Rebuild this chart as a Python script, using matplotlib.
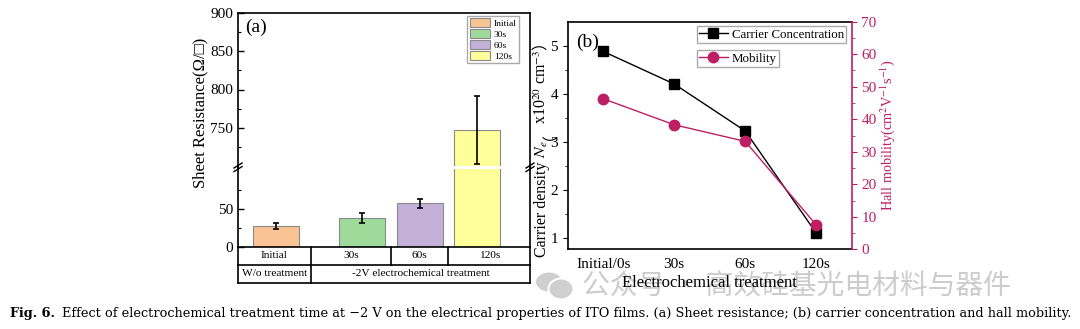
import matplotlib
matplotlib.use('Agg')
import matplotlib.pyplot as plt
import numpy as np
from matplotlib.patches import Ellipse, Patch
from matplotlib.lines import Line2D
from matplotlib.transforms import blended_transform_factory

plt.rcParams['font.family'] = ['Liberation Serif', 'Noto Sans CJK SC']
plt.rcParams['mathtext.fontset'] = 'stix'

# ---------------- data: panel (a) ----------------
sr_categories = ['Initial', '30s', '60s', '120s']
sr_values = [27, 38, 58, 747]
sr_errors = [4, 6.5, 6, 45]
sr_groups = ['W/o treatment', '-2V electrochemical treatment']
sr_colors = ['#F9C393', '#9EDB9B', '#C3B1D9', '#FFFF99']

# ---------------- data: panel (b) ----------------
b_categories = ['Initial/0s', '30s', '60s', '120s']
carrier = [4.89, 4.21, 3.23, 1.10]
mobility = [46.3, 38.3, 33.2, 7.5]

caption_bold = 'Fig. 6.'
caption_rest = ('Effect of electrochemical treatment time at \u22122 V on the electrical '
                'properties of ITO films. (a) Sheet resistance; (b) carrier concentration and hall mobility.')
watermark = '公众号 · 高效硅基光电材料与器件'

W, H = 1080, 329
fig = plt.figure(figsize=(W / 100, H / 100), dpi=100)
renderer = fig.canvas.get_renderer()


def fx(px):
    return px / W


def fy(py):
    return 1 - py / H


def fline(xs, ys, **kw):
    fig.add_artist(Line2D([fx(v) for v in xs], [fy(v) for v in ys],
                          transform=fig.transFigure, **kw))


# ================= panel (a) =================
ax_l, ax_r = 238, 530
top_t, top_b = 13, 166
bot_t, bot_b = 168.5, 246.7
axu = fig.add_axes([fx(ax_l), fy(top_b), fx(ax_r - ax_l), (top_b - top_t) / H])
axd = fig.add_axes([fx(ax_l), fy(bot_b), fx(ax_r - ax_l), (bot_b - bot_t) / H])
pos = [0, 1.5, 2.5, 3.5]
xlim = (-0.66, 4.42)
for ax in (axu, axd):
    ax.bar(pos, sr_values, width=0.8, color=sr_colors, edgecolor='#8a8a8a', linewidth=0.8,
           yerr=sr_errors, capsize=2.5,
           error_kw=dict(elinewidth=1.2, capthick=1.2, ecolor='black'))
    ax.set_xlim(*xlim)
    ax.set_xticks([])
    ax.tick_params(axis='y', which='major', direction='in', labelsize=11, length=4, width=1)
    ax.tick_params(axis='y', which='minor', direction='in', length=2.5, width=0.8)
    for s in ax.spines.values():
        s.set_linewidth(1.2)
axu.set_ylim(700, 900)
axu.set_yticks([750, 800, 850, 900])
axu.set_yticks([725, 775, 825, 875], minor=True)
axu.spines['bottom'].set_visible(False)
axd.set_ylim(0, 104)
axd.set_yticks([0, 50])
axd.set_yticks([25, 75], minor=True)
axd.spines['top'].set_visible(False)

# fill spine gap and break marks
for xs in (ax_l, ax_r):
    fline([xs, xs], [top_b, bot_t], color='black', lw=1.2)
    for d in (-1.8, 1.8):
        fline([xs - 4, xs + 4], [167.3 + d + 2.5, 167.3 + d - 2.5], color='black', lw=1)

# legend (a)
handles = [Patch(facecolor=c, edgecolor='#8a8a8a', linewidth=0.8) for c in sr_colors]
axu.legend(handles, sr_categories, loc='upper right',
           bbox_to_anchor=((519 - ax_l) / (ax_r - ax_l), (top_b - 16) / (top_b - top_t)),
           borderaxespad=0, fontsize=6.8, fancybox=False, edgecolor='#aaaaaa', framealpha=1,
           handlelength=2.2, handleheight=1.1, borderpad=0.25, labelspacing=0.12,
           handletextpad=0.35)
fig.text(fx(256), fy(27), '(a)', fontsize=14, ha='center', va='center')
fig.text(fx(200), fy(113), 'Sheet Resistance(Ω/□)', rotation=90, ha='center', va='center',
         fontsize=12)

# table below panel (a)
tr = blended_transform_factory(axd.transData, fig.transFigure)
r0, r1, r2 = 246.7, 265, 282.7
x0, x1 = xlim
edges1 = [x0, 0.61, 2.0, 3.0, x1]
edges2 = [x0, 0.61, x1]
for yy in (r1, r2):
    fig.add_artist(Line2D([x0, x1], [fy(yy), fy(yy)], transform=tr, color='black', lw=1.2))
for e in edges1:
    fig.add_artist(Line2D([e, e], [fy(r0), fy(r1)], transform=tr, color='black', lw=1.2))
for e in edges2:
    fig.add_artist(Line2D([e, e], [fy(r1), fy(r2)], transform=tr, color='black', lw=1.2))
for i, lab in enumerate(sr_categories):
    fig.text((edges1[i] + edges1[i + 1]) / 2, fy((r0 + r1) / 2), lab, transform=tr,
             ha='center', va='center', fontsize=8.2)
for i, lab in enumerate(sr_groups):
    fig.text((edges2[i] + edges2[i + 1]) / 2, fy((r1 + r2) / 2), lab, transform=tr,
             ha='center', va='center', fontsize=8.2)

# ================= panel (b) =================
mc = '#BE1E64'
bl, br, bt, bb = 567.7, 851.7, 21.7, 249.3
axb = fig.add_axes([fx(bl), fy(bb), fx(br - bl), (bb - bt) / H])
xb = np.arange(len(b_categories))
l1, = axb.plot(xb, carrier, '-s', color='black', ms=7.5, lw=1)
axb.set_xlim(-0.5, 3.5)
axb.set_ylim(0.76, 5.51)
axb.set_xticks(xb, b_categories)
axb.set_yticks([1, 2, 3, 4, 5])
axb.set_yticks(np.arange(1.5, 5.5, 1.0), minor=True)
axb.tick_params(axis='both', which='major', direction='out', labelsize=11, length=3.5)
axb.tick_params(axis='y', which='minor', direction='out', length=2)
axb.tick_params(axis='x', length=0, pad=6)
axb.spines['right'].set_visible(False)
for s in axb.spines.values():
    s.set_linewidth(1.2)
axb.set_xlabel('Electrochemical treatment', fontsize=12, labelpad=3)

axb2 = axb.twinx()
l2, = axb2.plot(xb, mobility, '-o', color=mc, ms=7.5, lw=1)
axb2.set_ylim(0, 70)
axb2.set_yticks(np.arange(0, 71, 10))
axb2.set_yticks(np.arange(5, 70, 10), minor=True)
axb2.tick_params(axis='y', which='major', direction='out', labelsize=11, length=3.5,
                 colors=mc)
axb2.tick_params(axis='y', which='minor', direction='out', length=2, colors=mc)
for k in ('left', 'top', 'bottom'):
    axb2.spines[k].set_visible(False)
axb2.spines['right'].set_color(mc)
axb2.spines['right'].set_linewidth(1.2)
axb2.set_ylabel(r'Hall mobility(cm$^{2}$V$^{-1}$s$^{-1}$)', fontsize=10.3, color=mc,
                labelpad=1)

leg1 = axb2.legend([l1], ['Carrier Concentration'], loc='upper left',
                   bbox_to_anchor=((696.7 - bl) / (br - bl), (bb - 26) / (bb - bt)),
                   borderaxespad=0, fontsize=9.3, fancybox=False, edgecolor='#aaaaaa',
                   framealpha=1, handlelength=2.2, borderpad=0.2, handletextpad=0.3)
axb2.add_artist(leg1)
axb2.legend([l2], ['Mobility'], loc='upper left',
            bbox_to_anchor=((696.7 - bl) / (br - bl), (bb - 50) / (bb - bt)),
            borderaxespad=0, fontsize=9.3, fancybox=False, edgecolor='#aaaaaa',
            framealpha=1, handlelength=2.2, borderpad=0.2, handletextpad=0.3)
fig.text(fx(588), fy(42), '(b)', fontsize=14, ha='center', va='center')

# left y label of (b), assembled from pieces so that the full-width brackets
# come from a CJK font while the rest uses serif / mathtext
cjk = {'family': 'Noto Sans CJK SC'}
pieces = [('Carrier density', {}, 4),
          (r'$N_e$', {}, 0),
          ('（', cjk, 0),
          (r'x10$^{20}$ cm$^{-3}$', {}, 0),
          ('）', cjk, 0)]
fs_lab = 11.5
texts, lens = [], []
for s, kw, gap in pieces:
    t = fig.text(0, 0, s, rotation=90, rotation_mode='anchor', ha='left', va='baseline',
                 fontsize=fs_lab, **kw)
    texts.append(t)
    lens.append(t.get_window_extent(renderer).height + gap)
total = sum(lens)
ycur = (H - 145.5) - total / 2
for t, L in zip(texts, lens):
    t.set_position((fx(546), ycur / H))
    ycur += L

# ================= watermark =================
fig.add_artist(Ellipse((fx(549), fy(282)), fx(28), 21 / H, transform=fig.transFigure,
                       facecolor='#cfcfcf', edgecolor='white', lw=1.5, zorder=-6))
fig.add_artist(Ellipse((fx(561), fy(289)), fx(25), 21 / H, transform=fig.transFigure,
                       facecolor='#cfcfcf', edgecolor='white', lw=1.5, zorder=-6))
fig.text(fx(582), fy(286), watermark, fontsize=20, color='#cccccc',
         family='Noto Sans CJK SC', ha='left', va='center', zorder=-5)

# ================= caption =================
cap_fs = 9.25
t1 = fig.text(fx(10), fy(314), caption_bold, fontsize=cap_fs, fontweight='bold',
              family='DejaVu Serif', ha='left', va='center')
bb1 = t1.get_window_extent(renderer)
fig.text((bb1.x1 + 7) / W, fy(314), caption_rest, fontsize=cap_fs, family='DejaVu Serif',
         ha='left', va='center')

fig.savefig('out.png', dpi=100)
